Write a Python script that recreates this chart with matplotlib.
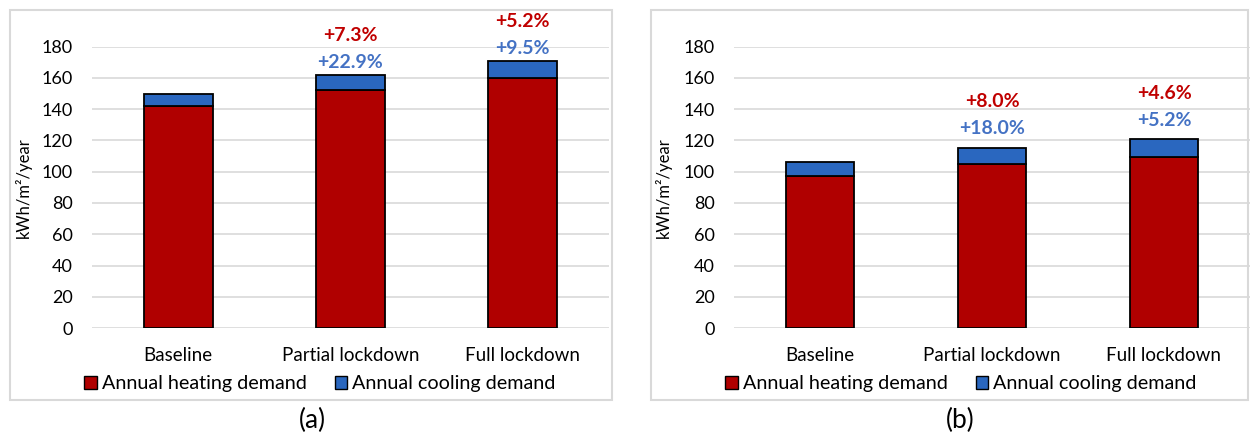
"""
Annual heating / cooling demand for the three scenarios, two sites (a) and (b)
"""

import matplotlib
matplotlib.use('Agg')
import matplotlib.pyplot as plt
from matplotlib.patches import Rectangle, Patch

plt.rcParams['font.family'] = ['Lato', 'DejaVu Sans']

categories = ['Baseline', 'Partial lockdown', 'Full lockdown']
seriesNames = ['Annual heating demand', 'Annual cooling demand']

# panel (a)
heatingA = [142.0, 152.4, 160.3]
coolingA = [8.0, 9.8, 10.7]
heatPctA = ['', '+7.3%', '+5.2%']
coolPctA = ['', '+22.9%', '+9.5%']

# panel (b)
heatingB = [97.0, 104.8, 109.6]
coolingB = [9.0, 10.6, 11.2]
heatPctB = ['', '+8.0%', '+4.6%']
coolPctB = ['', '+18.0%', '+5.2%']

yTicks = [0, 20, 40, 60, 80, 100, 120, 140, 160, 180]
panelLabels = ['(a)', '(b)']

heatColor = '#B00000'
coolColor = '#2A67BF'
heatText = '#C00000'
coolText = '#4472C4'
gridColor = '#D9D9D9'


def drawPanel(ax, heating, cooling, heatPct, coolPct, blueOff, redOff):
    x = range(len(categories))
    ax.bar(x, heating, width=0.4, color=heatColor, edgecolor='black', linewidth=1.3, zorder=3)
    ax.bar(x, cooling, width=0.4, bottom=heating, color=coolColor, edgecolor='black',
           linewidth=1.3, zorder=3)
    for i in x:
        top = heating[i] + cooling[i]
        if coolPct[i]:
            ax.annotate(coolPct[i], (i, top), xytext=(0, blueOff), textcoords='offset pixels',
                        ha='center', va='center', fontsize=14, fontweight='bold',
                        color=coolText, annotation_clip=False)
        if heatPct[i]:
            ax.annotate(heatPct[i], (i, top), xytext=(0, redOff), textcoords='offset pixels',
                        ha='center', va='center', fontsize=14, fontweight='bold',
                        color=heatText, annotation_clip=False)
    ax.set_xlim(-0.5, 2.5)
    ax.set_ylim(0, 180)
    ax.set_yticks(yTicks)
    ax.set_xticks(list(x))
    ax.set_xticklabels(categories, fontsize=13.5)
    ax.tick_params(axis='y', length=0, pad=14, labelsize=13)
    ax.tick_params(axis='x', length=0, pad=14)
    for s in ax.spines.values():
        s.set_visible(False)
    ax.grid(axis='y', color=gridColor, linewidth=1.2, zorder=0)
    ax.set_axisbelow(True)
    ax.set_ylabel('kWh/m²/year', fontsize=12)


fig = plt.figure(figsize=(12.5, 4.37), dpi=100)

axA = fig.add_axes([0.0736, 0.2494, 0.4136, 0.6437])
axB = fig.add_axes([0.5872, 0.2494, 0.4128, 0.6437])

drawPanel(axA, heatingA, coolingA, heatPctA, coolPctA, 12, 39)
drawPanel(axB, heatingB, coolingB, heatPctB, coolPctB, 19, 46)
axA.yaxis.set_label_coords(-0.116, 0.5)
axB.yaxis.set_label_coords(-0.12, 0.5)

# panel frames (in figure fraction)
fig.patches.append(Rectangle((10 / 1250, 37 / 437), 602 / 1250, 390 / 437, transform=fig.transFigure,
                             fill=False, edgecolor=gridColor, linewidth=1.5))
fig.patches.append(Rectangle((651 / 1250, 37 / 437), 597 / 1250, 390 / 437, transform=fig.transFigure,
                             fill=False, edgecolor=gridColor, linewidth=1.5))

handles = [Patch(facecolor=heatColor, edgecolor='black', linewidth=1.0),
           Patch(facecolor=coolColor, edgecolor='black', linewidth=1.0)]
for lx, tx, lab in zip([320 / 1250, 961 / 1250], [312 / 1250, 960 / 1250], panelLabels):
    fig.legend(handles, seriesNames, loc='center', bbox_to_anchor=(lx, 53 / 437), ncol=2,
               frameon=False, fontsize=14.2, handlelength=0.65, handleheight=0.65,
               handletextpad=0.25, columnspacing=1.4, borderaxespad=0)
    fig.text(tx, 17 / 437, lab, ha='center', va='center', fontsize=19)

fig.savefig('out.png', dpi=100)
